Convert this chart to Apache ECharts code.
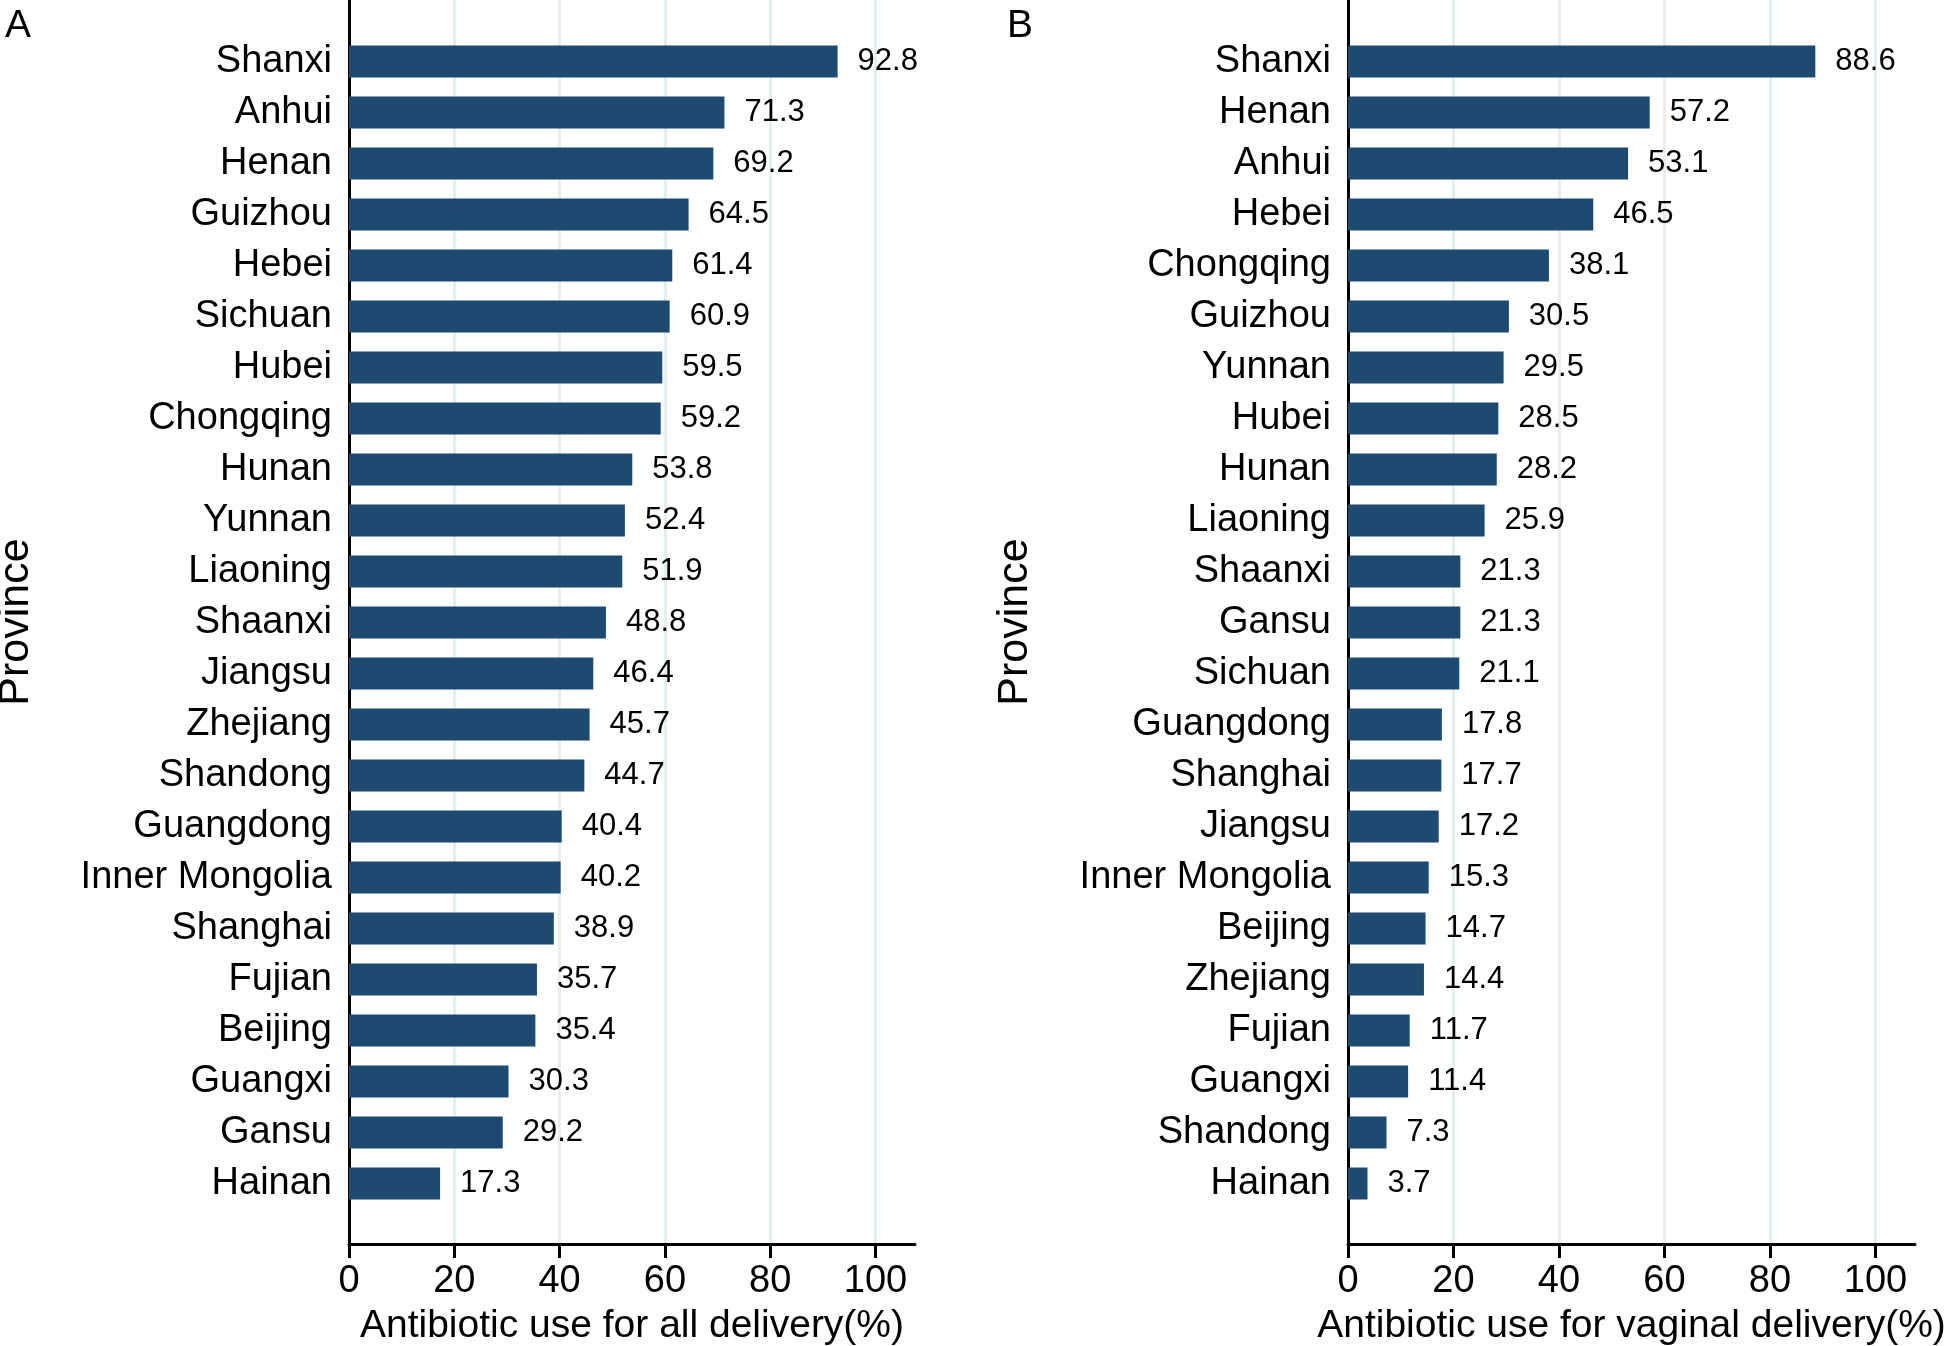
<!DOCTYPE html>
<html>
<head>
<meta charset="utf-8">
<script src="https://cdn.jsdelivr.net/npm/echarts@6/dist/echarts.min.js"></script>
<style>
  body { margin: 0; background: #fff; }
  #BarView { width: 1945px; height: 1346px; }
</style>
</head>
<body>
<div id="BarView"></div>
<script>
// panel A: all delivery
let provinceA = ["Shanxi", "Anhui", "Henan", "Guizhou", "Hebei", "Sichuan", "Hubei", "Chongqing",
  "Hunan", "Yunnan", "Liaoning", "Shaanxi", "Jiangsu", "Zhejiang", "Shandong", "Guangdong",
  "Inner Mongolia", "Shanghai", "Fujian", "Beijing", "Guangxi", "Gansu", "Hainan"];
let valueA = [92.8, 71.3, 69.2, 64.5, 61.4, 60.9, 59.5, 59.2, 53.8, 52.4, 51.9, 48.8, 46.4, 45.7,
  44.7, 40.4, 40.2, 38.9, 35.7, 35.4, 30.3, 29.2, 17.3];

// panel B: vaginal delivery
let provinceB = ["Shanxi", "Henan", "Anhui", "Hebei", "Chongqing", "Guizhou", "Yunnan", "Hubei",
  "Hunan", "Liaoning", "Shaanxi", "Gansu", "Sichuan", "Guangdong", "Shanghai", "Jiangsu",
  "Inner Mongolia", "Beijing", "Zhejiang", "Fujian", "Guangxi", "Shandong", "Hainan"];
let valueB = [88.6, 57.2, 53.1, 46.5, 38.1, 30.5, 29.5, 28.5, 28.2, 25.9, 21.3, 21.3, 21.1, 17.8,
  17.7, 17.2, 15.3, 14.7, 14.4, 11.7, 11.4, 7.3, 3.7];

let xTicks = [0, 20, 40, 60, 80, 100];

let font = "'Liberation Sans', Arial, Helvetica, sans-serif";
let barColor = "#1f4a6f";
let xMax = 107.5;

let chart = echarts.init(document.getElementById("BarView"));

function frameX(gridIndex, name) {
  return {
    gridIndex: gridIndex,
    type: "value",
    min: 0,
    max: xMax,
    name: name,
    nameLocation: "middle",
    nameGap: 63,
    nameTextStyle: { fontFamily: font, fontSize: 39, color: "#000" },
    axisLine: { show: true, lineStyle: { color: "#000", width: 3 } },
    axisTick: { show: true, customValues: xTicks, length: 14, lineStyle: { color: "#000", width: 3 } },
    axisLabel: { customValues: xTicks, margin: 19, fontFamily: font, fontSize: 38, color: "#000" },
    splitLine: { show: true, lineStyle: { color: "#e6eef0", width: 3 } },
  };
}

function frameY(gridIndex) {
  return {
    gridIndex: gridIndex,
    type: "value",
    min: 0,
    max: 1,
    name: "Province",
    nameLocation: "middle",
    nameGap: 311,
    nameTextStyle: { fontFamily: font, fontSize: 43, color: "#000" },
    axisLine: { show: true, lineStyle: { color: "#000", width: 3 } },
    axisTick: { show: false },
    axisLabel: { show: false },
    splitLine: { show: false },
  };
}

function barX(gridIndex) {
  return { gridIndex: gridIndex, type: "value", min: 0, max: xMax, show: false };
}

function barY(gridIndex, cats) {
  return {
    gridIndex: gridIndex,
    type: "category",
    data: cats,
    inverse: true,
    axisLine: { show: false },
    axisTick: { show: false },
    axisLabel: { margin: 17, fontFamily: font, fontSize: 38, color: "#000", padding: [4, 0, 0, 0] },
  };
}

function barSeries(index, values) {
  return {
    type: "bar",
    xAxisIndex: index,
    yAxisIndex: index,
    data: values,
    barWidth: 32,
    itemStyle: { color: barColor },
    label: {
      show: true,
      position: "right",
      distance: 20,
      fontFamily: font,
      fontSize: 31,
      color: "#000",
      formatter: function (p) {
        return p.value.toFixed(1);
      },
    },
    silent: true,
  };
}

let option = {
  backgroundColor: "#fff",
  animation: false,
  title: [
    { text: "A", left: 0, top: 2, textStyle: { fontFamily: font, fontSize: 39, fontWeight: "normal", color: "#000" } },
    { text: "B", left: 1002, top: 2, textStyle: { fontFamily: font, fontSize: 39, fontWeight: "normal", color: "#000" } },
  ],
  grid: [
    { left: 349, width: 566, top: 0, bottom: 102, outerBoundsMode: "none" },
    { left: 349, width: 566, top: 36, bottom: 137, outerBoundsMode: "none" },
    { left: 1348, width: 567, top: 0, bottom: 102, outerBoundsMode: "none" },
    { left: 1348, width: 567, top: 36, bottom: 137, outerBoundsMode: "none" },
  ],
  xAxis: [
    frameX(0, "Antibiotic use for all delivery(%)"),
    barX(1),
    frameX(2, "Antibiotic use for vaginal delivery(%)"),
    barX(3),
  ],
  yAxis: [frameY(0), barY(1, provinceA), frameY(2), barY(3, provinceB)],
  series: [barSeries(1, valueA), barSeries(3, valueB)],
};
chart.setOption(option);
</script>
</body>
</html>
